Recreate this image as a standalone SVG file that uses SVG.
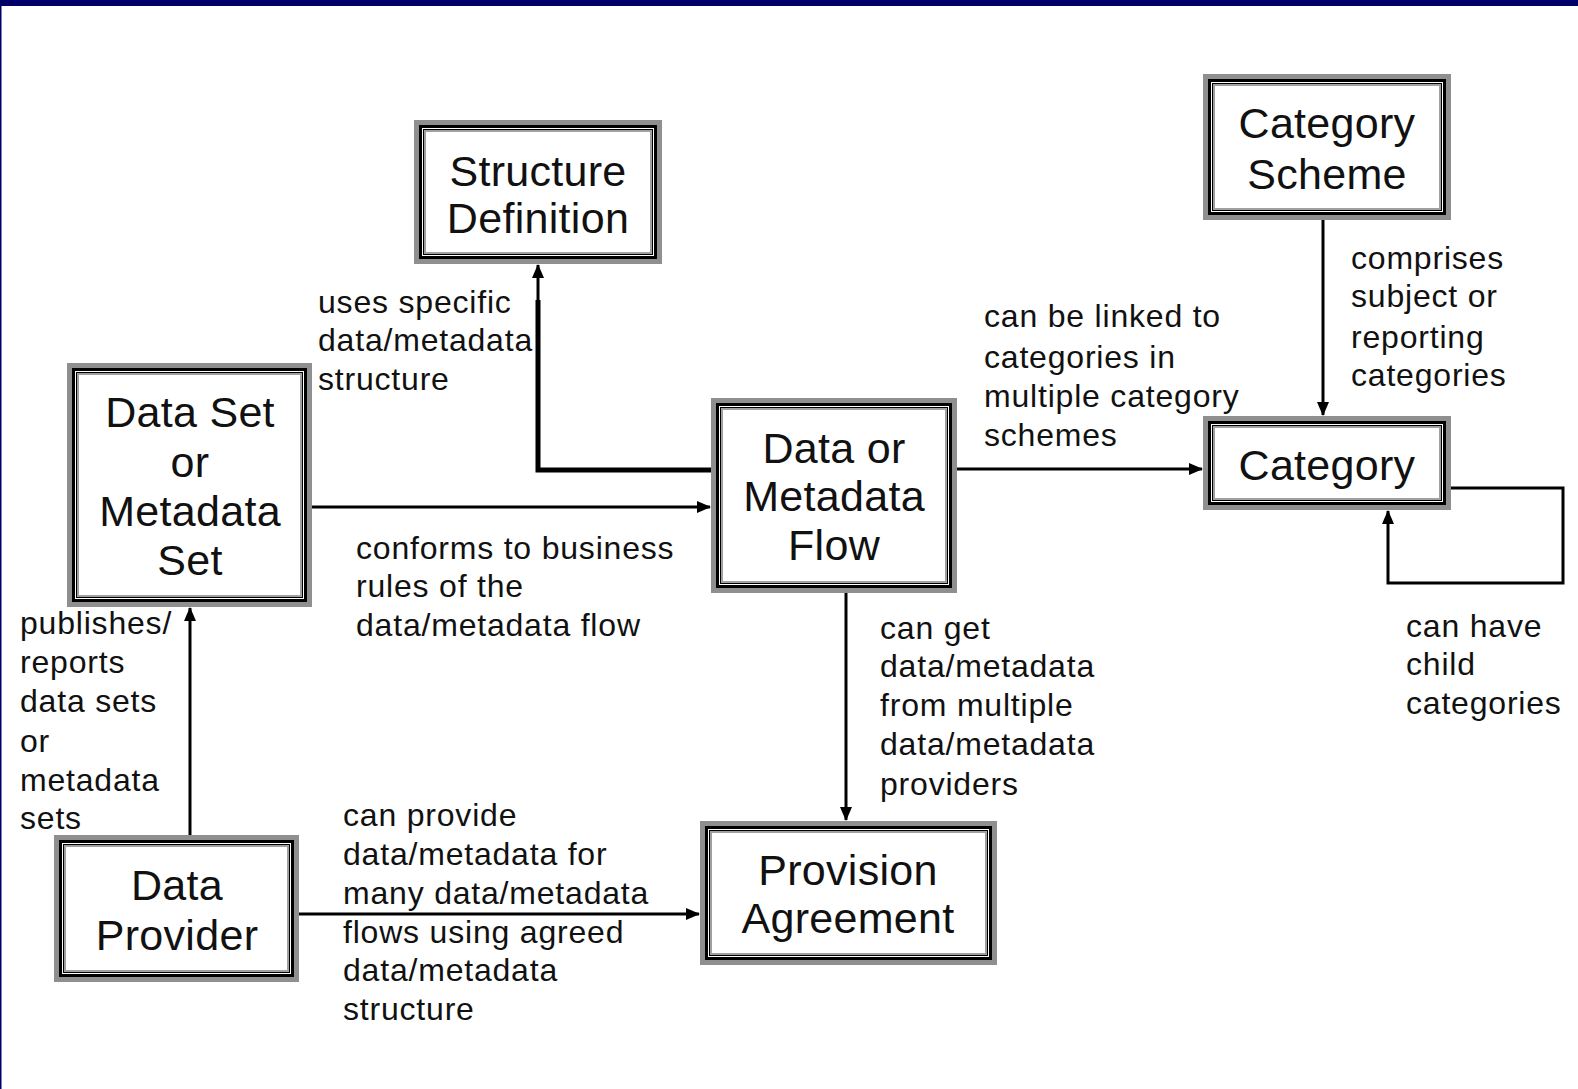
<svg xmlns="http://www.w3.org/2000/svg" width="1578" height="1089" viewBox="0 0 1578 1089">
<defs>
<marker id="ah" markerUnits="userSpaceOnUse" markerWidth="14" markerHeight="12" refX="13" refY="6" orient="auto">
<path d="M0,0 L14,6 L0,12 z" fill="#000"/>
</marker>
<style>
.g{fill:#fff;stroke:#8f8f8f;stroke-width:5}
.b{fill:none;stroke:#000;stroke-width:3}
.t{fill:none;stroke:#000;stroke-width:1}
.i{fill:none;stroke:#a0a0a0;stroke-width:2}
.n{font-family:"Liberation Sans",Arial,sans-serif;font-size:43px;letter-spacing:0.3px;fill:#111;text-anchor:middle}
.l{font-family:"Liberation Sans",Arial,sans-serif;font-size:32px;letter-spacing:0.8px;fill:#111}
.c{fill:none;stroke:#000;stroke-width:3}
.ct{fill:none;stroke:#000;stroke-width:5}
</style>
</defs>
<rect x="0" y="0" width="1578" height="1089" fill="#fff"/>
<rect x="0" y="0" width="1578" height="6" fill="#00006a"/>
<rect x="0" y="0" width="1.5" height="1089" fill="#00006a"/>

<g id="connectors">
<polyline class="ct" points="711,470 538,470 538,300"/>
<line class="c" x1="538" y1="302" x2="538" y2="265" marker-end="url(#ah)"/>
<line class="c" x1="312" y1="507" x2="710" y2="507" marker-end="url(#ah)"/>
<line class="c" x1="957" y1="469" x2="1202" y2="469" marker-end="url(#ah)"/>
<line class="c" x1="1323" y1="220" x2="1323" y2="415" marker-end="url(#ah)"/>
<polyline class="c" points="1451,488 1563,488 1563,583 1388,583 1388,511" marker-end="url(#ah)"/>
<line class="c" x1="846" y1="593" x2="846" y2="820" marker-end="url(#ah)"/>
<line class="c" x1="190" y1="835" x2="190" y2="608" marker-end="url(#ah)"/>
<line class="c" x1="299" y1="914" x2="699" y2="914" marker-end="url(#ah)"/>
</g>

<g id="structure-definition">
<rect class="g" x="416.5" y="122.5" width="243" height="139"/>
<rect class="b" x="420.5" y="126.5" width="235" height="131"/>
<rect class="t" x="423.5" y="129.5" width="229" height="125"/>
<rect class="i" x="425" y="131" width="226" height="122"/>
<text class="n" x="538" y="186">Structure</text>
<text class="n" x="538" y="233">Definition</text>
</g>

<g id="category-scheme">
<rect class="g" x="1205.5" y="76.5" width="243" height="141"/>
<rect class="b" x="1209.5" y="80.5" width="235" height="133"/>
<rect class="t" x="1212.5" y="83.5" width="229" height="127"/>
<rect class="i" x="1214" y="85" width="226" height="124"/>
<text class="n" x="1327" y="138">Category</text>
<text class="n" x="1327" y="189">Scheme</text>
</g>

<g id="data-set">
<rect class="g" x="69.5" y="365.5" width="240" height="239"/>
<rect class="b" x="73.5" y="369.5" width="232" height="231"/>
<rect class="t" x="76.5" y="372.5" width="226" height="225"/>
<rect class="i" x="78" y="374" width="223" height="222"/>
<text class="n" x="190" y="427">Data Set</text>
<text class="n" x="190" y="477">or</text>
<text class="n" x="190" y="526">Metadata</text>
<text class="n" x="190" y="575">Set</text>
</g>

<g id="data-flow">
<rect class="g" x="713.5" y="400.5" width="241" height="190"/>
<rect class="b" x="717.5" y="404.5" width="233" height="182"/>
<rect class="t" x="720.5" y="407.5" width="227" height="176"/>
<rect class="i" x="722" y="409" width="224" height="173"/>
<text class="n" x="834" y="463">Data or</text>
<text class="n" x="834" y="511">Metadata</text>
<text class="n" x="834" y="560">Flow</text>
</g>

<g id="category">
<rect class="g" x="1205.5" y="418.5" width="243" height="89"/>
<rect class="b" x="1209.5" y="422.5" width="235" height="81"/>
<rect class="t" x="1212.5" y="425.5" width="229" height="75"/>
<rect class="i" x="1214" y="427" width="226" height="72"/>
<text class="n" x="1327" y="480">Category</text>
</g>

<g id="data-provider">
<rect class="g" x="56.5" y="837.5" width="240" height="142"/>
<rect class="b" x="60.5" y="841.5" width="232" height="134"/>
<rect class="t" x="63.5" y="844.5" width="226" height="128"/>
<rect class="i" x="65" y="846" width="223" height="125"/>
<text class="n" x="177" y="900">Data</text>
<text class="n" x="177" y="950">Provider</text>
</g>

<g id="provision-agreement">
<rect class="g" x="702.5" y="823.5" width="292" height="139"/>
<rect class="b" x="706.5" y="827.5" width="284" height="131"/>
<rect class="t" x="709.5" y="830.5" width="278" height="125"/>
<rect class="i" x="711" y="832" width="275" height="122"/>
<text class="n" x="848" y="885">Provision</text>
<text class="n" x="848" y="933">Agreement</text>
</g>

<g id="labels">
<text class="l" x="318" y="313">uses specific</text>
<text class="l" x="318" y="351">data/metadata</text>
<text class="l" x="318" y="390">structure</text>

<text class="l" x="984" y="327">can be linked to</text>
<text class="l" x="984" y="368">categories in</text>
<text class="l" x="984" y="407">multiple category</text>
<text class="l" x="984" y="446">schemes</text>

<text class="l" x="1351" y="269">comprises</text>
<text class="l" x="1351" y="307">subject or</text>
<text class="l" x="1351" y="348">reporting</text>
<text class="l" x="1351" y="386">categories</text>

<text class="l" x="356" y="559">conforms to business</text>
<text class="l" x="356" y="597">rules of the</text>
<text class="l" x="356" y="636">data/metadata flow</text>

<text class="l" x="20" y="634">publishes/</text>
<text class="l" x="20" y="673">reports</text>
<text class="l" x="20" y="712">data sets</text>
<text class="l" x="20" y="752">or</text>
<text class="l" x="20" y="791">metadata</text>
<text class="l" x="20" y="829">sets</text>

<text class="l" x="880" y="639">can get</text>
<text class="l" x="880" y="677">data/metadata</text>
<text class="l" x="880" y="716">from multiple</text>
<text class="l" x="880" y="755">data/metadata</text>
<text class="l" x="880" y="795">providers</text>

<text class="l" x="1406" y="637">can have</text>
<text class="l" x="1406" y="675">child</text>
<text class="l" x="1406" y="714">categories</text>

<text class="l" x="343" y="826">can provide</text>
<text class="l" x="343" y="865">data/metadata for</text>
<text class="l" x="343" y="904">many data/metadata</text>
<text class="l" x="343" y="943">flows using agreed</text>
<text class="l" x="343" y="981">data/metadata</text>
<text class="l" x="343" y="1020">structure</text>
</g>
</svg>
